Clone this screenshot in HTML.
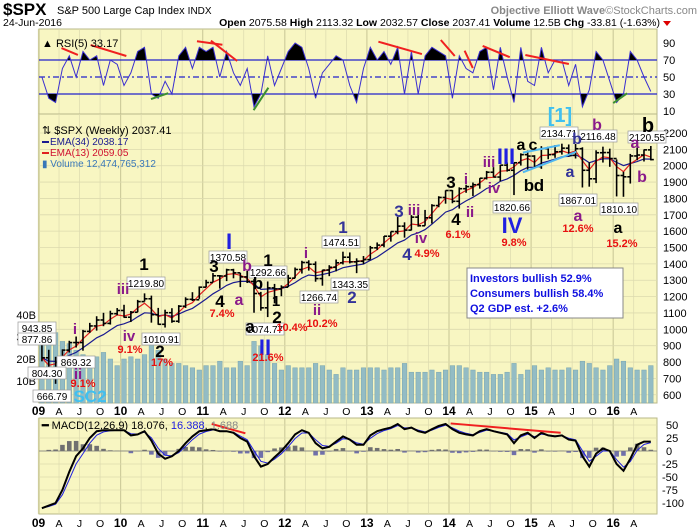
<!DOCTYPE html>
<html><head><meta charset="utf-8"><title>SPX Weekly</title>
<style>
body{margin:0;background:#fff;font-family:"Liberation Sans",sans-serif;}
svg{display:block}
text{font-family:"Liberation Sans",sans-serif}
</style></head>
<body>
<svg id="chart" width="700" height="530" viewBox="0 0 700 530" xmlns="http://www.w3.org/2000/svg">
<g id="hdr">
<text x="3" y="15" font-size="17" font-weight="bold">$SPX</text>
<text x="57" y="14" font-size="11">S&amp;P 500 Large Cap Index <tspan font-size="10">INDX</tspan></text>
<text x="697" y="14" font-size="11" font-weight="bold" fill="#888" text-anchor="end">Objective Elliott Wave<tspan font-weight="normal">©StockCharts.com</tspan></text>
<text x="3" y="26" font-size="10.5">24-Jun-2016</text>
<text x="660" y="26" font-size="10.5" text-anchor="end"><tspan font-weight="bold">Open</tspan> 2075.58 <tspan font-weight="bold">High</tspan> 2113.32 <tspan font-weight="bold">Low</tspan> 2032.57 <tspan font-weight="bold">Close</tspan> 2037.41 <tspan font-weight="bold">Volume</tspan> 12.5B <tspan font-weight="bold">Chg</tspan> -33.81 (-1.63%)</text>
<path d="M663 21 L671 21 L667 26 Z" fill="#d00"/>
</g>
<g id="rsiP"></g>
<g id="mainP"></g>
<g id="macdP"></g>
</svg>
<script>
const closes=[825.9,735.1,797.9,872.8,919.1,919.3,987.5,1020.6,1057.1,1036.2,1095.6,1115.1,
1073.9,1104.5,1169.4,1186.7,1089.4,1030.7,1101.6,1049.3,1141.2,1183.3,1180.6,1257.6,
1286.1,1327.2,1325.8,1363.6,1345.2,1320.6,1292.3,1218.9,1131.4,1253.3,1247.0,1257.6,
1312.4,1365.7,1408.5,1397.9,1310.3,1362.2,1379.3,1406.6,1440.7,1412.2,1416.2,1426.2,
1498.1,1514.7,1569.2,1597.6,1630.7,1606.3,1685.7,1633.0,1681.6,1756.5,1806.0,1848.4,
1782.6,1859.5,1872.3,1883.9,1923.6,1960.2,1930.7,2003.4,1972.3,2018.1,2067.6,2058.9,
1995.0,2104.5,2067.9,2085.5,2107.4,2063.1,2103.8,1972.2,1920.0,2079.4,2080.4,2043.9,
1940.2,1932.2,2059.7,2065.3,2096.9,2037.4];
const highs=[943.85,875,832,877.6,930,956,996.7,1039.5,1080,1101,1113.7,1130,
1150,1112,1180,1219.8,1206,1131,1120,1129,1148,1196,1227,1262,
1302.7,1344,1332,1370.58,1370,1345,1356.5,1307,1229,1292.66,1277.6,1269,
1333,1378,1419,1422,1415,1363.5,1392,1426.7,1474.51,1470,1434,1448,
1509.9,1530.9,1570.3,1597.6,1687,1654,1698,1709.7,1729.9,1765,1813.6,1849.4,
1850.8,1867.9,1884,1897.3,1924,1968.2,1991.4,2005,2019.3,2018.2,2075.8,2093.6,
2064.4,2119.6,2117.5,2125.9,2134.72,2129.9,2132.8,2112.7,2020.9,2094.3,2116.48,2104.3,
2038.2,1963,2072.2,2111,2099.3,2120.55];
const lows=[804.3,734.5,666.79,783,858,888.9,869.32,978.5,992,1019,1029,1085.9,
1071,1044.5,1105,1170,1040.8,1028,1010.91,1040,1039.7,1131,1173,1186,
1257.6,1289,1249,1294.7,1311.8,1258,1282.9,1101.5,1114,1074.77,1158.7,1202.4,
1259,1312,1341,1358.8,1291,1266.74,1325,1354.6,1396.6,1403,1343.35,1398,
1426.7,1485,1501.5,1536,1581,1560.3,1604.6,1627.5,1633.4,1646.5,1746.2,1767.9,
1770.5,1737.9,1834.4,1814.4,1859.8,1915.9,1930.7,1904.8,1964,1820.66,2001,1972.6,
1988.1,1980.9,2039.7,2048.4,2067.9,2056.3,2044,1867.01,1871.9,1893.7,2019.4,1993.3,
1812.3,1810.1,1891,2033.8,2025.9,2032.57];
const volumes=[28,30,32,28,27,24,22,20,21,23,20,17,20,21,20,22,28,24,20,18,18,17,16,15,
17,17,19,16,16,19,17,28,26,22,18,15,17,16,16,16,18,17,15,13,16,15,15,16,
16,16,15,16,16,18,14,14,14,15,14,15,17,17,16,15,14,14,13,13,14,18,13,15,
17,15,16,15,15,16,15,19,18,16,15,17,20,19,16,15,15,17];
const rsiVals=[50,25,20,60,75,50,80,70,75,40,70,65,40,55,80,85,30,25,45,30,75,85,60,85,
80,85,50,80,55,40,60,15,30,75,40,60,80,90,85,60,25,55,65,75,70,40,20,60,
85,70,80,65,85,30,80,30,75,85,80,75,25,75,60,55,80,85,35,85,50,20,85,45,
40,85,55,70,70,40,65,15,35,80,70,45,20,30,80,70,50,33];
const macdVals=[-110,-105,-100,-75,-40,-10,5,25,38,40,40,40,40,30,32,38,20,-5,-15,-10,0,15,28,38,
40,42,38,38,35,25,18,-10,-30,-25,-12,0,15,32,40,35,15,5,8,18,28,22,12,12,
30,38,42,45,52,42,45,38,35,42,48,52,42,35,32,30,38,42,38,35,32,15,30,35,
25,35,30,28,30,22,20,-10,-30,-5,5,0,-25,-38,-15,12,18,18];
const priceTicks=[2200,2100,2000,1900,1800,1700,1600,1500,1400,1300,1200,1100,1000,900,800,700,600];
const rsiTicks=[90,70,50,30,10];
const macdTicks=[50,25,0,-25,-50,-75,-100];
const volTicks=[["40B",40],["30B",30],["20B",20],["10B",10]];
const xLabels=["09","A","J","O","10","A","J","O","11","A","J","O","12","A","J","O","13","A","J","O","14","A","J","O","15","A","J","O","16","A"];
const rsiRedLines=[[0.28,84,0.48,76],[0.635,87.6,1.07,74.7],[1.93,92,2.24,88],[2.1,92.7,2.42,68.8],[4.14,91.5,4.67,77],[4.9,93.5,5.07,74.7],[5.19,81,5.29,60.5],[5.41,86.5,5.74,73.3],[5.93,75.9,6.46,65.3]];
const rsiGreenLines=[[1.37,24,1.58,31],[2.62,11,2.8,37.4],[7.0,19.4,7.17,30.8]];
const macdRedLines=[[2.11,52,2.52,34],[5.02,53,6.36,35]];

const NS="http://www.w3.org/2000/svg";
const L=39,R=657;
const xT=t=>38.5+t*82.1;
const xI=i=>xT(Math.floor(i/12)+((i%12)+0.5)/12);
const yP=v=>133+(2200-v)*0.1636;
const yR=v=>119.5-v*0.85;
const yM=v=>451-v*0.52;
const yV=v=>403-v*2.2;
function mk(par,tag,attrs){const e=document.createElementNS(NS,tag);for(const k in attrs)e.setAttribute(k,attrs[k]);par.appendChild(e);return e;}
function txt(par,x,y,s,attrs){const e=mk(par,"text",Object.assign({x:x,y:y},attrs||{}));e.textContent=s;return e;}
const BG="#f8f6c2",GRID="#dcdaae",BORD="#b8b88a";

function panel(par,top,bot,name){
  const r=mk(par,"rect",{x:L,y:top,width:R-L,height:bot-top,fill:BG,stroke:BORD});
  
  
  for(let q=0;q<30;q++){const x=xT(q/4);mk(par,"line",{x1:x,x2:x,y1:top,y2:bot,stroke:q%4==0?"#cfcd9c":GRID,"stroke-width":q%4==0?1.2:0.7});}
}
function xAxis(par,y,name){
  const g=mk(par,"g",{});
  
  
  xLabels.forEach((s,q)=>{txt(g,xT(q/4),y,s,{"font-size":q%4==0?12:10.5,"font-weight":q%4==0?"bold":"normal","text-anchor":"middle"});});
}
// RSI
const rp=document.getElementById("rsiP");
panel(rp,29,114,"rsi");
rsiTicks.forEach(v=>{txt(rp,663,yR(v)+4,String(v),{"font-size":11});if(v!=90&&v!=10)mk(rp,"line",{x1:L,x2:R,y1:yR(v),y2:yR(v),stroke:"#2222cc","stroke-width":1.3,"stroke-dasharray":v==50?"6,3,2,3":"none"});});
const rpts=rsiVals.map((v,i)=>[xI(i),yR(v)]);
const defs=mk(document.getElementById("chart"),"defs",{});
const c1=mk(defs,"clipPath",{id:"above70"});mk(c1,"rect",{x:L,y:29,width:R-L,height:yR(70)-29});
const c2=mk(defs,"clipPath",{id:"below30"});mk(c2,"rect",{x:L,y:yR(30),width:R-L,height:114-yR(30)});
const ptsStr=rpts.map(p=>p[0].toFixed(1)+","+p[1].toFixed(1)).join(" ");
const fa=mk(rp,"polygon",{points:xI(0)+","+yR(70)+" "+ptsStr+" "+xI(rsiVals.length-1)+","+yR(70),fill:"#000","clip-path":"url(#above70)"});


const fb=mk(rp,"polygon",{points:xI(0)+","+yR(30)+" "+ptsStr+" "+xI(rsiVals.length-1)+","+yR(30),fill:"#000","clip-path":"url(#below30)"});


const rl=mk(rp,"polyline",{points:ptsStr,fill:"none",stroke:"#3a2fd0","stroke-width":1});


rsiRedLines.forEach(a=>{const l=mk(rp,"line",{x1:xT(a[0]),y1:yR(a[1]),x2:xT(a[2]),y2:yR(a[3]),stroke:"#f02020","stroke-width":2});});
rsiGreenLines.forEach(a=>{const l=mk(rp,"line",{x1:xT(a[0]),y1:yR(a[1]),x2:xT(a[2]),y2:yR(a[3]),stroke:"#3c9030","stroke-width":2});});
txt(rp,42,47,"▲ RSI(5) 33.17",{"font-size":11});

// Main
const mp=document.getElementById("mainP");
panel(mp,114,403,"price");
priceTicks.forEach(v=>{mk(mp,"line",{x1:L,x2:R,y1:yP(v),y2:yP(v),stroke:GRID,"stroke-width":0.8});txt(mp,663,yP(v)+4,String(v),{"font-size":11});});
volTicks.forEach(a=>txt(mp,36,yV(a[1])+4,a[0],{"font-size":11,"text-anchor":"end"}));
volumes.forEach((v,i)=>{const b=mk(mp,"rect",{x:xI(i)-2.3,y:yV(v),width:4.6,height:403-yV(v),fill:"#93bcc4",stroke:"#7aa6b0","stroke-width":0.5});});
function ema(arr,n){const k=2/(n+1);let e=arr[0];return arr.map(v=>(e=v*k+e*(1-k)));}
const e34=ema(closes,8),e13=ema(closes,3);
[[e34,"#1a1a90","ema34-line"],[e13,"#e02020","ema13-line"]].forEach(s=>{const l=mk(mp,"polyline",{points:s[0].map((v,i)=>xI(i).toFixed(1)+","+yP(v).toFixed(1)).join(" "),fill:"none",stroke:s[1],"stroke-width":1.2});});
closes.forEach((c,i)=>{const g=mk(mp,"g",{stroke:"#000","stroke-width":1.6});
 const x=xI(i);mk(g,"line",{x1:x,x2:x,y1:yP(highs[i]),y2:yP(lows[i])});
 const o=i>0?closes[i-1]:highs[0];mk(g,"line",{x1:x-3,x2:x,y1:yP(o),y2:yP(o)});mk(g,"line",{x1:x,x2:x+3,y1:yP(c),y2:yP(c)});});
[[5.9,2080,6.35,2125],[5.9,1960,6.55,2085]].forEach(a=>{const l=mk(mp,"line",{x1:xT(a[0]),y1:yP(a[1]),x2:xT(a[2]),y2:yP(a[3]),stroke:"#50b8f0","stroke-width":2});});
txt(mp,42,134,"⇅ $SPX (Weekly) 2037.41",{"font-size":11});
mk(mp,"rect",{x:42,y:141,width:7,height:2,fill:"#1a1a90"});txt(mp,50,145,"EMA(34) 2038.17",{"font-size":10,fill:"#1a1a90"});
mk(mp,"rect",{x:42,y:152,width:7,height:2,fill:"#e02020"});txt(mp,50,156,"EMA(13) 2059.05",{"font-size":10,fill:"#d01030"});
txt(mp,42,167,"▮ Volume 12,474,765,312",{"font-size":10,fill:"#3a78b8"});
[["1219.80",146,283],["1010.91",161,339],["943.85",37,328],["877.86",37,339],["869.32",76,362],["804.30",47,373],["666.79",52,396],["1370.58",228,257],["1292.66",268,272],["1074.77",265,329],["1266.74",319,297],["1474.51",341,242],["1343.35",350,284],["1820.66",512,207],["2134.71",559,133],["2116.48",598,136],["1867.01",578,200],["1810.10",619,209],["2120.55",647,137]].forEach(a=>{
 const g=mk(mp,"g",{});
 mk(g,"rect",{x:a[1]-19,y:a[2]-6,width:38,height:12,fill:"#fff",stroke:"#999","stroke-width":0.7});
 txt(g,a[1],a[2]+4,a[0],{"font-size":10,"text-anchor":"middle"});});
const BLK="#000",BLU="#2020e0",NAV="#333399",PUR="#8a1a8a",RED="#e81010",CYN="#40c0f0";
[["1",144,270,BLK,17],["iii",123,294,PUR,15],["i",75,334,PUR,15],["iv",129,341,PUR,15],["2",160,357,BLK,17],["ii",78,379,PUR,15],
["I",229,249,BLU,22],["3",214,272,BLK,17],["b",247,271,PUR,16],["4",220,307,BLK,17],["a",239,305,PUR,16],["1",268,266,BLK,17],["b",258,289,BLK,17],["1",276,306,BLK,15],["2",277,323,BLK,17],["a",250,332,BLK,17],["II",265,355,BLU,22],
["i",306,258,PUR,15],["ii",317,315,PUR,15],["1",343,233,NAV,17],["2",352,303,NAV,17],["3",399,217,NAV,17],["iii",414,215,PUR,15],["4",407,260,NAV,17],["iv",421,243,PUR,15],
["3",451,188,BLK,17],["i",466,184,PUR,15],["4",456,225,BLK,17],["ii",470,217,PUR,15],["iii",489,167,PUR,15],["III",506,164,BLU,22],["iv",494,193,PUR,15],["IV",512,233,BLU,22],
["a",521,150,BLK,16],["c",533,150,BLK,16],["b",529,191,BLK,17],["d",539,191,BLK,17],["[1]",560,122,CYN,20],["b",577,144,NAV,16],["a",570,177,NAV,16],
["b",597,130,PUR,16],["a",578,221,PUR,16],["a",618,233,BLK,16],["b",648,132,BLK,20],["a",635,148,PUR,16],["b",642,182,PUR,16],["SC2",90,402,CYN,17]].forEach(a=>{
 const t=txt(mp,a[1],a[2],a[0],{"font-size":a[4],"font-weight":"bold",fill:a[3],"text-anchor":"middle"});
 });
[["9.1%",130,353],["17%",162,366],["7.4%",222,317],["10.4%",292,331],["21.6%",268,361],["10.2%",322,327],["4.9%",427,257],["6.1%",458,238],["9.8%",514,246],["12.6%",578,232],["15.2%",622,247],["9.1%",83,387]].forEach(a=>{
 const t=txt(mp,a[1],a[2],a[0],{"font-size":11,"font-weight":"bold",fill:RED,"text-anchor":"middle"});
 });
const ib=mk(mp,"g",{});
mk(ib,"rect",{x:467,y:268,width:156,height:50,fill:"#fff",stroke:"#888"});
["Investors bullish 52.9%","Consumers bullish 58.4%","Q2 GDP est. +2.6%"].forEach((s,i)=>txt(ib,470,282+i*15,s,{"font-size":11,"font-weight":"bold",fill:"#1010e0"}));
xAxis(document.getElementById("chart"),415,"price-x-axis");

// MACD
const mc=document.getElementById("macdP");
panel(mc,418,514,"macd");
macdTicks.forEach(v=>{mk(mc,"line",{x1:L,x2:R,y1:yM(v),y2:yM(v),stroke:GRID,"stroke-width":0.8});txt(mc,v<0?662:666,yM(v)+4,String(v),{"font-size":11});});
const sig=ema(macdVals,2);
macdVals.forEach((v,i)=>{const h=v-sig[i];const y0=yM(0),y1=yM(h*1.3);const b=mk(mc,"rect",{x:xI(i)-2.3,y:Math.min(y0,y1),width:4.6,height:Math.abs(y1-y0),fill:h>=0?"#707070":"#7070aa"});});
mk(mc,"line",{x1:L,x2:R,y1:yM(0),y2:yM(0),stroke:"#777","stroke-width":0.8});
const sl=mk(mc,"polyline",{points:sig.map((v,i)=>xI(i).toFixed(1)+","+yM(v).toFixed(1)).join(" "),fill:"none",stroke:"#2020e0","stroke-width":1});

const ml=mk(mc,"polyline",{points:macdVals.map((v,i)=>xI(i).toFixed(1)+","+yM(v).toFixed(1)).join(" "),fill:"none",stroke:"#000","stroke-width":2});

macdRedLines.forEach(a=>{const l=mk(mc,"line",{x1:xT(a[0]),y1:yM(a[1]),x2:xT(a[2]),y2:yM(a[3]),stroke:"#f02020","stroke-width":2});});
const mlab=txt(mc,42,429,"",{"font-size":11});
mlab.innerHTML='<tspan font-weight="bold">━</tspan> MACD(12,26,9) 18.076, <tspan fill="#2020e0">16.388</tspan>, <tspan fill="#888">1.688</tspan>';
xAxis(document.getElementById("chart"),527,"macd-x-axis");
</script>
</body></html>
